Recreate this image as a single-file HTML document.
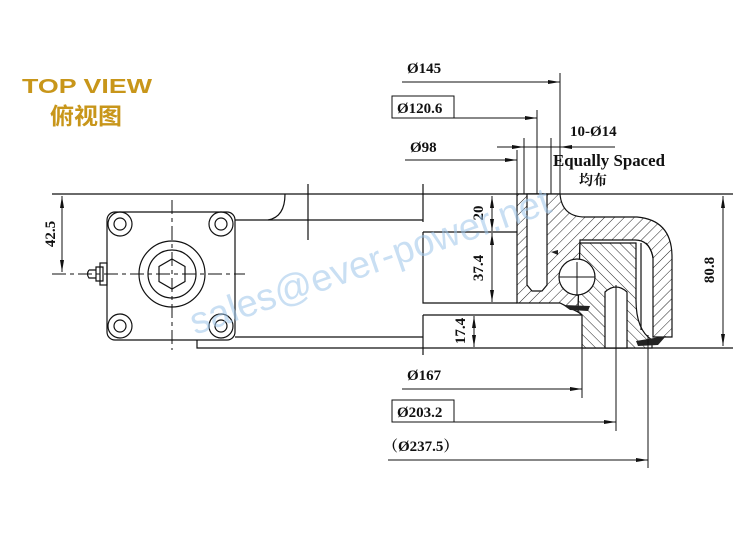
<!DOCTYPE html>
<html><head><meta charset="utf-8"><style>
html,body{margin:0;padding:0;background:#fff;}
svg{display:block;}
.t{font-family:"Liberation Serif","Noto Serif CJK SC",serif;font-weight:bold;font-size:15px;fill:#111;}
</style></head><body>
<svg width="753" height="534" viewBox="0 0 753 534" xmlns="http://www.w3.org/2000/svg">
<defs>
<pattern id="h" width="7" height="7" patternUnits="userSpaceOnUse" patternTransform="rotate(45)">
<rect width="7" height="7" fill="#fff"/><line x1="0" y1="0" x2="0" y2="7" stroke="#222" stroke-width="1"/>
</pattern>
<pattern id="h2" width="7" height="7" patternUnits="userSpaceOnUse" patternTransform="rotate(-45)">
<rect width="7" height="7" fill="#fff"/><line x1="0" y1="0" x2="0" y2="7" stroke="#222" stroke-width="1"/>
</pattern>
<marker id="a" markerWidth="12" markerHeight="6" refX="12" refY="3" orient="auto" markerUnits="userSpaceOnUse">
<path d="M0,1 L12,3 L0,5 Z" fill="#111"/></marker>
<marker id="b" markerWidth="12" markerHeight="6" refX="0" refY="3" orient="auto" markerUnits="userSpaceOnUse">
<path d="M12,1 L0,3 L12,5 Z" fill="#111"/></marker>
</defs>

<text x="22" y="93" font-family="Liberation Sans,sans-serif" font-weight="bold" font-size="20" fill="#c8961a" textLength="130" lengthAdjust="spacingAndGlyphs">TOP VIEW</text>
<text x="50" y="124" font-family="'Noto Sans CJK SC',sans-serif" font-weight="bold" font-size="23" fill="#c8961a" textLength="72" lengthAdjust="spacingAndGlyphs">俯视图</text>

<g stroke="#111" stroke-width="1.2" fill="none">
<line x1="52" y1="194" x2="733" y2="194"/>
<rect x="107" y="212" width="128" height="128" rx="8"/>
<g>
<circle cx="120" cy="224" r="12"/><circle cx="120" cy="224" r="6"/>
<circle cx="221" cy="224" r="12"/><circle cx="221" cy="224" r="6"/>
<circle cx="120" cy="326" r="12"/><circle cx="120" cy="326" r="6"/>
<circle cx="221" cy="326" r="12"/><circle cx="221" cy="326" r="6"/>
</g>
<circle cx="172" cy="274" r="33"/><circle cx="172" cy="274" r="24"/>
<polygon points="172,259 185,266.5 185,281.5 172,289 159,281.5 159,266.5"/>
<line x1="172" y1="200" x2="172" y2="350" stroke-dasharray="14,4,4,4" stroke-width="1"/>
<line x1="52" y1="274" x2="245" y2="274" stroke-dasharray="14,4,4,4" stroke-width="1"/>
<path d="M96,267 L103,267 L103,281 L96,281 Z M89,270 L96,270 L96,278 L89,278 Q86,274 89,270"/>
<rect x="100" y="263" width="7" height="22"/>
<line x1="235" y1="220" x2="423" y2="220"/>
<path d="M268,220 Q285,217 285,194"/>
<line x1="308" y1="184" x2="308" y2="240"/>
<line x1="423" y1="184" x2="423" y2="222"/>
<line x1="235" y1="337" x2="423" y2="337"/>
<path d="M197,340 L197,348 L423,348"/>
<path d="M423,232 L517,232 M423,232 L423,303 L517,303 M423,315 L582,315 M423,315 L423,355"/>
<line x1="423" y1="348" x2="733" y2="348"/>
<line x1="62" y1="196" x2="62" y2="272" marker-start="url(#b)" marker-end="url(#a)" stroke-width="1"/>
</g>

<g stroke="#111" stroke-width="1.2">
<path fill="url(#h)" d="M517,194 L560,194 Q562,217 585,217 L637,217 Q672,220 672,257 L672,337 L653,337 L653,258 Q650,240 635,240 L580,240 L578,312 L560,303 L517,303 Z"/>
<path fill="url(#h2)" d="M580,243 L636,243 L636,300 Q636,330 652,340 L652,348 L582,348 L582,315 L578,312 Z"/>
<path fill="#fff" d="M527,194 L547,194 L547,285 L542,291 L532,291 L527,285 Z"/>
<circle cx="577" cy="277" r="18" fill="#fff"/>
<path fill="#fff" d="M605,348 L605,292 Q616,282 627,292 L627,348 Z"/>
<path fill="none" d="M641,243 L641,330 M646,243 Q652,250 653,258"/>
<line x1="559" y1="277" x2="595" y2="277" stroke-width="1"/>
<line x1="577" y1="262" x2="577" y2="296" stroke-width="1"/>
<line x1="616" y1="285" x2="616" y2="355" stroke-width="1"/>
</g>
<path d="M563,305 L590,306 L588,311 L570,310 Z" fill="#222"/>
<path d="M636,341 L666,336 L658,345 L638,346 Z" fill="#222"/>
<path d="M551,252 L558,250 L558,255 Z" fill="#222"/>

<g stroke="#111" stroke-width="1" fill="none">
<line x1="723" y1="196" x2="723" y2="346" marker-start="url(#b)" marker-end="url(#a)"/>
<line x1="492" y1="196" x2="492" y2="231" marker-start="url(#b)" marker-end="url(#a)"/>
<line x1="492" y1="233" x2="492" y2="302" marker-start="url(#b)" marker-end="url(#a)"/>
<line x1="474" y1="316" x2="474" y2="347" marker-start="url(#b)" marker-end="url(#a)"/>
<line x1="402" y1="82" x2="560" y2="82" marker-end="url(#a)"/>
<line x1="560" y1="73" x2="560" y2="194"/>
<rect x="392" y="96" width="62" height="22"/>
<line x1="454" y1="118" x2="537" y2="118" marker-end="url(#a)"/>
<line x1="537" y1="110" x2="537" y2="194"/>
<line x1="405" y1="160" x2="517" y2="160" marker-end="url(#a)"/>
<line x1="517" y1="150" x2="517" y2="194"/>
<line x1="497" y1="147" x2="524" y2="147" marker-end="url(#a)"/>
<line x1="524" y1="147" x2="615" y2="147"/>
<line x1="575" y1="147" x2="560" y2="147" marker-end="url(#a)"/>
<line x1="524" y1="138" x2="524" y2="194"/>
<line x1="551" y1="138" x2="551" y2="194"/>
<line x1="402" y1="389" x2="582" y2="389" marker-end="url(#a)"/>
<line x1="582" y1="348" x2="582" y2="398"/>
<rect x="392" y="400" width="62" height="22"/>
<line x1="454" y1="422" x2="616" y2="422" marker-end="url(#a)"/>
<line x1="616" y1="348" x2="616" y2="431"/>
<line x1="388" y1="460" x2="648" y2="460" marker-end="url(#a)"/>
<line x1="648" y1="335" x2="648" y2="468"/>
</g>

<g class="t">
<text x="407" y="73">Ø145</text>
<text x="397" y="113">Ø120.6</text>
<text x="410" y="152">Ø98</text>
<text x="570" y="136">10-Ø14</text>
<text x="553" y="166" font-size="17" textLength="112" lengthAdjust="spacingAndGlyphs">Equally Spaced</text>
<text x="579" y="185" font-size="14">均布</text>
<text x="407" y="380">Ø167</text>
<text x="397" y="417">Ø203.2</text>
<text x="383" y="451">（Ø237.5）</text>
<text transform="translate(55,234) rotate(-90)" text-anchor="middle">42.5</text>
<text transform="translate(483,213) rotate(-90)" text-anchor="middle">20</text>
<text transform="translate(483,268) rotate(-90)" text-anchor="middle">37.4</text>
<text transform="translate(465,331) rotate(-90)" text-anchor="middle">17.4</text>
<text transform="translate(714,270) rotate(-90)" text-anchor="middle">80.8</text>
</g>

<text transform="translate(195,335) rotate(-19)" font-family="Liberation Sans,sans-serif" font-size="38" fill="#9cc4ea" fill-opacity="0.55">sales@ever-power.net</text>
</svg>
</body></html>
